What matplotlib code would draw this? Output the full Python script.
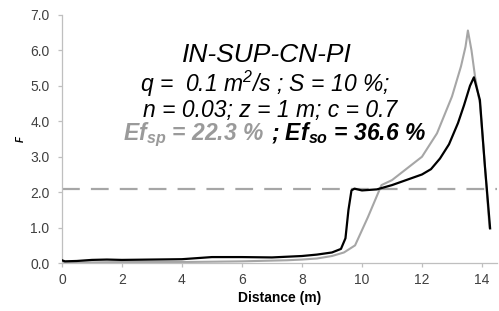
import matplotlib
matplotlib.use("Agg")
import matplotlib.pyplot as plt

plt.rcParams['font.family'] = ['Liberation Sans', 'DejaVu Sans']
plt.rcParams['mathtext.fontset'] = 'custom'
plt.rcParams['mathtext.it'] = 'Liberation Sans:italic:bold'
plt.rcParams['mathtext.rm'] = 'Liberation Sans:italic'
plt.rcParams['mathtext.bf'] = 'Liberation Sans:italic:bold'

# Data
x_so = [0, 0.1, 0.5, 1, 1.5, 2, 3, 4, 4.5, 5, 6, 7, 8, 8.5, 9, 9.3, 9.45, 9.55, 9.65,
        9.75, 10, 10.5, 11, 11.5, 12, 12.3, 12.6, 12.9, 13.2, 13.4, 13.6, 13.73, 13.93,
        14.1, 14.16, 14.27]
f_so = [0.08, 0.05, 0.06, 0.09, 0.1, 0.09, 0.1, 0.11, 0.14, 0.17, 0.17, 0.16, 0.2, 0.24,
        0.3, 0.4, 0.7, 1.5, 2.05, 2.1, 2.05, 2.08, 2.2, 2.35, 2.5, 2.65, 2.95, 3.35, 3.95,
        4.45, 5.0, 5.24, 4.6, 2.7, 2.1, 0.98]

x_sp = [0, 1, 2, 3, 4, 5, 6, 7, 7.5, 8, 8.5, 9, 9.4, 9.77, 10.2, 10.65, 11, 11.5, 12,
        12.5, 13, 13.3, 13.45, 13.53, 13.65, 13.77, 13.93, 14.1, 14.25]
f_sp = [0.02, 0.02, 0.03, 0.03, 0.03, 0.04, 0.05, 0.07, 0.08, 0.1, 0.13, 0.2, 0.3, 0.5,
        1.3, 2.2, 2.34, 2.67, 3.0, 3.66, 4.7, 5.55, 6.1, 6.56, 6.0, 5.25, 4.5, 2.7, 1.0]

threshold = 2.1
x_ticks = [0, 2, 4, 6, 8, 10, 12, 14]
y_ticks = [0, 1, 2, 3, 4, 5, 6, 7]

GRAY = '#a6a6a6'
TEXTGRAY = '#9a9a9a'

fig = plt.figure(figsize=(4.99, 3.11), dpi=100)
ax = fig.add_axes([0.124, 0.154, 0.872, 0.798])

ax.plot(x_sp, f_sp, color=GRAY, lw=1.5, zorder=2)
ax.plot(x_so, f_so, color='black', lw=1.6, zorder=3)
ax.axhline(threshold, color=GRAY, lw=1.6, dashes=(8, 5), zorder=1)

ax.set_xlim(0, 14.5)
ax.set_ylim(0, 7)
ax.set_xticks(x_ticks)
ax.set_yticks(y_ticks)
ax.set_yticklabels([f"{v:.1f}" for v in y_ticks])
for s in ['top', 'right']:
    ax.spines[s].set_visible(False)
for s in ['left', 'bottom']:
    ax.spines[s].set_color('#bfbfbf')
    ax.spines[s].set_linewidth(0.9)
ax.tick_params(axis='both', colors='#bfbfbf', labelcolor='#404040', labelsize=10, length=3, width=0.9)
ax.tick_params(axis='y', pad=6)
ax.tick_params(axis='x', pad=4)
ax.set_xlabel('Distance (m)', fontsize=10, fontweight='bold', labelpad=3)
ax.set_ylabel('F', fontsize=7, fontweight='bold', fontstyle='italic', labelpad=3)

def fx(px):
    return px / 499.0

def fy(py):
    return 1 - py / 311.0

fig.text(fx(266.5), fy(62), 'IN-SUP-CN-PI', fontsize=19, fontstyle='italic', ha='center', va='baseline')
fig.text(fx(265.5), fy(92), 'q =  0.1 m$^2$/s ; S = 10 %;', fontsize=16.5, fontstyle='italic', ha='center', va='baseline')
fig.text(fx(270), fy(117), 'n = 0.03; z = 1 m; c = 0.7', fontsize=16.5, fontstyle='italic', ha='center', va='baseline')
fig.text(fx(264), fy(140), 'Ef$_{sp}$ = 22.3 %', fontsize=16.5, fontstyle='italic', fontweight='bold',
         color=TEXTGRAY, ha='right', va='baseline')
fig.text(fx(271), fy(140), '; Ef$_{so}$ = 36.6 %', fontsize=16.5, fontstyle='italic', fontweight='bold',
         color='black', ha='left', va='baseline')

fig.savefig('out.png', dpi=100)
